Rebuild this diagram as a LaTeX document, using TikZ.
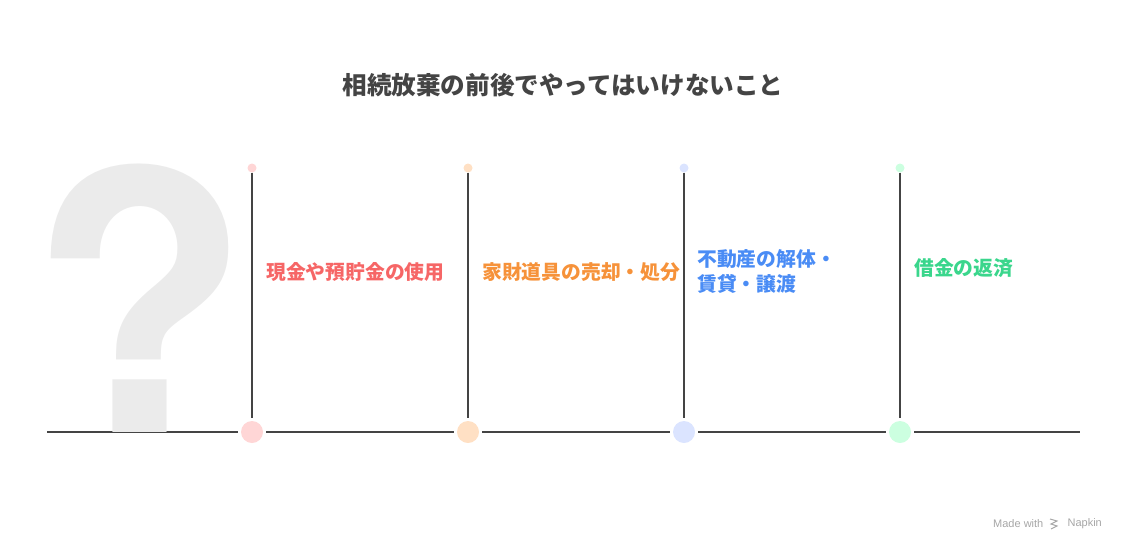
\documentclass[tikz,border=0pt]{standalone}
\usepackage{fontspec}
\setmainfont{Liberation Sans}
\newfontfamily\jpfont{Noto Sans CJK JP}
\newfontfamily\qfont{TeX Gyre Heros}
\definecolor{linegray}{RGB}{68,68,68}
\definecolor{qgray}{RGB}{235,235,235}
\definecolor{redtxt}{RGB}{246,102,102}
\definecolor{orangetxt}{RGB}{246,146,58}
\definecolor{bluetxt}{RGB}{74,140,245}
\definecolor{greentxt}{RGB}{58,214,140}
\definecolor{redlt}{RGB}{255,214,214}
\definecolor{orangelt}{RGB}{255,224,196}
\definecolor{bluelt}{RGB}{219,228,255}
\definecolor{greenlt}{RGB}{204,255,224}
\begin{document}
\begin{tikzpicture}[x=1pt,y=-1pt]
		% Estilos
		\tikzstyle{topdot} = [circle, inner sep=0pt, minimum size=9pt, outer sep=0pt]
		\tikzstyle{botdot} = [circle, inner sep=0pt, minimum size=22pt, outer sep=3pt]
		\tikzstyle{label} = [anchor=west, inner sep=0pt, align=left, font=\jpfont\bfseries\fontsize{19.8}{25}\selectfont]
		\tikzstyle{line} = [draw=linegray, line width=2pt]
		\useasboundingbox (0,0) rectangle (1126,552);
		% Titulo
		\node (title) at (563,85) [font=\jpfont\bfseries\fontsize{24.6}{28}\selectfont, text=linegray] {相続放棄の前後でやってはいけないこと};
		% Pontos
		\coordinate (lft) at (47,432);
		\coordinate (rgt) at (1080,432);
		\node (top1) [topdot, fill=redlt] at (252,168) {};
		\node (top2) [topdot, fill=orangelt] at (468,168) {};
		\node (top3) [topdot, fill=bluelt] at (684,168) {};
		\node (top4) [topdot, fill=greenlt] at (900,168) {};
		\node (bot1) [botdot] at (252,432) {};
		\node (bot2) [botdot] at (468,432) {};
		\node (bot3) [botdot] at (684,432) {};
		\node (bot4) [botdot] at (900,432) {};
		% Linha de base
		\draw [line] (lft) -- (bot1);
		\draw [line] (bot1) -- (bot2);
		\draw [line] (bot2) -- (bot3);
		\draw [line] (bot3) -- (bot4);
		\draw [line] (bot4) -- (rgt);
		% Interrogacao
		\node (qmark) [anchor=base west, inner sep=0pt, text=qgray, font=\qfont\bfseries\fontsize{361}{361}\selectfont] at (29,432) {?};
		\fill [redlt] (bot1) circle (11pt);
		\fill [orangelt] (bot2) circle (11pt);
		\fill [bluelt] (bot3) circle (11pt);
		\fill [greenlt] (bot4) circle (11pt);
		% Linhas verticais
		\draw [line] (top1) -- (bot1);
		\draw [line] (top2) -- (bot2);
		\draw [line] (top3) -- (bot3);
		\draw [line] (top4) -- (bot4);
		% Textos
		\node (lbl1) [label, text=redtxt] at (266,272) {現金や預貯金の使用};
		\node (lbl2) [label, text=orangetxt] at (482,272) {家財道具の売却・処分};
		\node (lbl3) [label, text=bluetxt] at (697,271) {不動産の解体・\\賃貸・譲渡};
		\node (lbl4) [label, text=greentxt] at (914,268) {借金の返済};
		% Marca
		\node (made) [anchor=west, inner sep=0pt, text=black!35, font=\fontsize{11}{13}\selectfont] at (993,524) {Made with};
		\node (napkin) [anchor=east, inner sep=0pt, text=black!35, font=\fontsize{11}{13}\selectfont] at (1102,524) {Napkin};
		\draw [black!35, line width=1pt] (1050,519) -- (1057,521) -- (1051,524) -- (1057,526) -- (1051,529);
	\end{tikzpicture}
\end{document}
